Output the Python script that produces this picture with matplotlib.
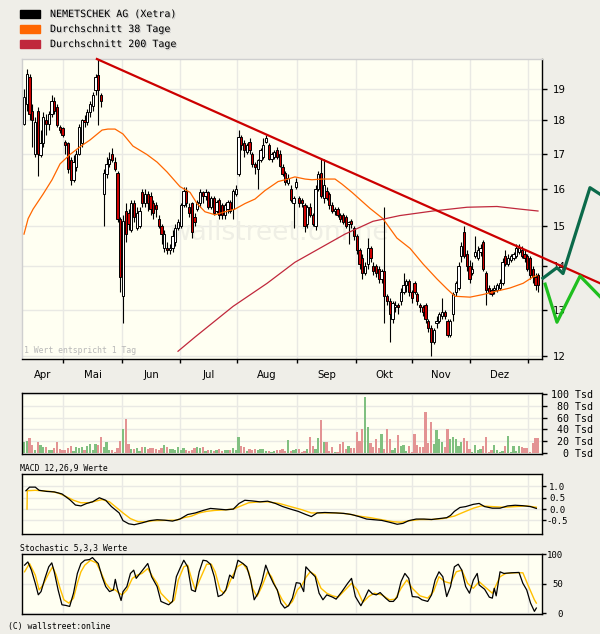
import matplotlib
matplotlib.use("Agg")
import matplotlib.pyplot as plt
import matplotlib.patheffects as pe
from matplotlib.patches import Rectangle
from matplotlib.ticker import NullLocator, NullFormatter
import numpy as np


# Daily candles (trading day index 0..187), EUR
opens = [17.9, 18.5, 19.4, 18.3, 17.0, 18.3, 16.95, 17.3, 18.0, 17.9,
         18.2, 18.6, 18.4, 17.8, 17.75, 17.35, 17.3, 16.8, 16.25, 16.6,
         17.0, 17.3, 18.0, 17.95, 18.25, 18.45, 18.95, 19.45, 18.8, 15.85,
         16.4, 16.7, 17.0, 16.75, 16.45, 15.2, 13.3, 15.4, 15.35, 14.9,
         15.6, 14.95, 15.0, 15.9, 15.6, 15.85, 15.8, 15.6, 15.55, 15.2,
         15.0, 14.45, 14.45, 14.4, 14.45, 14.6, 14.95, 15.0, 15.55, 15.95,
         15.5, 15.6, 15.25, 15.45, 15.6, 15.9, 15.8, 15.9, 15.5, 15.75,
         15.4, 15.7, 15.55, 15.3, 15.45, 15.65, 15.45, 15.85, 16.4, 17.5,
         17.3, 17.05, 17.35, 17.0, 16.7, 16.55, 16.8, 16.9, 17.35, 17.25,
         16.85, 16.9, 17.1, 17.0, 16.6, 16.45, 16.15, 16.0, 15.6, 16.05,
         15.75, 15.7, 15.55, 15.05, 15.5, 15.3, 15.0, 16.0, 16.45, 15.75,
         15.95, 15.85, 15.55, 15.4, 15.45, 15.3, 15.3, 15.25, 15.05, 15.15,
         14.95, 14.75, 14.4, 14.2, 13.85, 14.05, 14.45, 14.0, 14.0, 13.95,
         13.7, 13.9, 13.3, 13.2, 12.8, 13.05, 13.1, 13.2, 13.4, 13.55,
         13.65, 13.4, 13.6, 13.35, 13.1, 13.05, 13.1, 12.75, 12.6, 12.3,
         12.7, 12.75, 12.85, 12.95, 12.75, 12.45, 12.9, 13.4, 13.5, 14.25,
         14.85, 14.3, 14.0, 13.85, 14.25, 14.2, 14.35, 14.6, 13.85, 13.5,
         13.45, 13.45, 13.45, 13.5, 13.6, 14.25, 14.05, 14.15, 14.2, 14.25,
         14.35, 14.4, 14.3, 14.25, 14.2, 13.95, 13.75, 13.8]
closes = [18.75, 19.5, 18.2, 18.0, 17.95, 17.0, 17.3, 18.1, 17.9, 18.2,
          18.6, 18.3, 17.85, 17.7, 17.55, 17.25, 16.55, 16.25, 16.75, 17.0,
          17.8, 18.0, 17.95, 18.25, 18.5, 18.8, 19.4, 18.95, 18.6, 16.45,
          16.7, 16.85, 16.8, 16.55, 15.2, 13.75, 15.15, 14.8, 15.05, 15.6,
          15.25, 15.35, 15.4, 15.6, 15.85, 15.6, 15.45, 15.35, 15.45, 15.0,
          14.8, 14.8, 14.4, 14.45, 14.75, 14.95, 15.1, 15.55, 15.95, 15.6,
          15.35, 14.85, 15.1, 15.65, 15.9, 15.8, 15.9, 15.5, 15.75, 15.35,
          15.65, 15.3, 15.3, 15.55, 15.65, 15.4, 15.95, 16.0, 17.5, 17.25,
          17.1, 17.25, 17.1, 16.7, 16.6, 16.8, 17.1, 17.25, 17.45, 16.85,
          17.0, 17.05, 16.9, 16.65, 16.4, 16.2, 16.3, 15.7, 15.75, 16.2,
          15.6, 15.6, 15.0, 15.5, 15.3, 15.05, 16.0, 16.4, 15.8, 16.1,
          15.75, 15.55, 15.4, 15.45, 15.3, 15.2, 15.1, 15.0, 15.1, 15.05,
          14.75, 14.4, 14.05, 13.85, 14.0, 14.45, 14.2, 13.9, 13.85, 13.7,
          13.9, 13.3, 13.2, 12.9, 13.15, 13.1, 13.05, 13.4, 13.55, 13.65,
          13.4, 13.25, 13.4, 13.2, 13.05, 12.95, 12.8, 12.6, 12.3, 12.55,
          12.75, 12.9, 12.95, 12.85, 12.45, 12.75, 13.35, 13.6, 14.0, 14.5,
          14.25, 14.0, 13.7, 13.95, 14.35, 14.4, 14.45, 13.95, 13.45, 13.4,
          13.35, 13.5, 13.55, 13.6, 14.1, 14.05, 14.2, 14.25, 14.3, 14.45,
          14.45, 14.25, 14.2, 13.95, 13.8, 13.75, 13.55, 13.55]
highs = [19.0, 19.65, 19.5, 18.5, 18.1, 18.4, 17.7, 18.25, 18.2, 18.3,
         18.8, 18.75, 18.5, 17.85, 17.8, 17.4, 17.35, 16.9, 16.95, 17.1,
         17.9, 18.05, 18.15, 18.35, 18.6, 18.9, 19.5, 20.0, 18.85, 16.55,
         16.9, 17.05, 17.15, 16.9, 16.5, 15.25, 15.3, 15.6, 15.45, 15.7,
         15.7, 15.5, 15.5, 16.0, 16.0, 15.95, 15.9, 15.7, 15.65, 15.3,
         15.05, 14.9, 14.6, 14.55, 14.9, 15.05, 15.2, 15.6, 16.05, 16.05,
         15.6, 15.65, 15.35, 15.7, 16.0, 15.95, 16.0, 15.95, 15.8, 15.8,
         15.7, 15.75, 15.6, 15.6, 15.7, 15.7, 16.0, 16.1, 17.7, 17.55,
         17.4, 17.3, 17.45, 17.05, 16.75, 16.85, 17.15, 17.45, 17.55, 17.3,
         17.05, 17.1, 17.2, 17.1, 16.7, 16.5, 16.4, 16.1, 15.8, 16.3,
         15.8, 15.75, 15.6, 15.55, 15.6, 15.35, 16.1, 16.5, 16.85, 16.85,
         16.05, 15.9, 15.65, 15.5, 15.5, 15.35, 15.35, 15.3, 15.15, 15.2,
         15.0, 14.8, 14.45, 14.3, 14.1, 14.7, 14.5, 14.1, 14.05, 14.0,
         13.95, 15.5, 13.35, 13.25, 13.2, 13.2, 13.15, 13.5, 13.85, 13.7,
         13.7, 13.45, 13.65, 13.4, 13.15, 13.1, 13.15, 12.8, 12.65, 12.6,
         12.85, 12.95, 13.25, 13.0, 12.8, 12.8, 13.4, 13.65, 14.1, 14.6,
         15.0, 14.4, 14.15, 14.1, 14.75, 14.5, 14.55, 14.65, 13.9, 13.55,
         13.5, 13.55, 13.6, 13.7, 14.2, 14.4, 14.3, 14.3, 14.35, 14.55,
         14.55, 14.5, 14.4, 14.3, 14.25, 14.0, 13.85, 13.85]
lows = [17.85, 18.3, 18.0, 17.2, 16.9, 16.35, 16.9, 17.2, 17.55, 17.7,
        18.1, 18.2, 17.8, 17.6, 17.5, 17.0, 16.45, 16.1, 16.2, 16.5,
        16.95, 17.2, 17.8, 17.85, 18.1, 18.3, 18.8, 17.85, 18.4, 15.0,
        16.3, 16.6, 16.75, 16.5, 15.1, 13.4, 12.7, 14.6, 14.9, 14.85,
        15.1, 14.9, 14.95, 15.5, 15.5, 15.4, 15.3, 15.2, 15.25, 14.95,
        14.55, 14.35, 14.3, 14.3, 14.35, 14.5, 14.9, 14.95, 15.5, 15.5,
        15.25, 14.7, 15.0, 15.4, 15.5, 15.6, 15.7, 15.45, 15.45, 15.3,
        15.35, 15.2, 15.2, 15.2, 15.35, 15.35, 15.2, 15.8, 16.35, 17.1,
        16.9, 17.0, 17.0, 16.6, 16.4, 16.0, 16.75, 16.85, 17.3, 16.8,
        16.75, 16.85, 16.85, 16.6, 16.35, 16.1, 16.1, 15.65, 14.95, 16.0,
        15.5, 15.5, 14.85, 14.95, 15.25, 15.0, 14.9, 15.95, 15.75, 15.6,
        15.7, 15.45, 15.35, 15.3, 15.25, 15.1, 15.05, 14.95, 14.55, 14.95,
        14.65, 14.3, 13.95, 13.7, 13.8, 13.95, 14.1, 13.8, 13.75, 13.6,
        13.6, 12.7, 13.1, 12.3, 12.7, 12.95, 12.9, 13.1, 13.35, 13.4,
        13.3, 13.15, 13.35, 13.1, 12.95, 12.85, 12.7, 12.5, 12.0, 12.25,
        12.6, 12.7, 12.8, 12.8, 12.4, 12.4, 12.75, 13.3, 13.45, 14.1,
        14.2, 13.9, 13.6, 13.8, 14.2, 14.15, 14.25, 13.9, 13.1, 13.35,
        13.3, 13.35, 13.4, 13.45, 13.55, 14.0, 14.0, 14.1, 14.15, 14.2,
        14.3, 14.2, 14.1, 13.9, 13.7, 13.6, 13.45, 13.4]

# Volume in thousand shares
volume = [18, 20, 25, 14, 5, 18, 14, 10, 10, 5,
          5, 9, 18, 7, 5, 5, 8, 12, 3, 10,
          9, 10, 5, 12, 16, 5, 15, 14, 27, 10,
          18, 5, 5, 2, 9, 20, 40, 58, 16, 7,
          7, 8, 4, 10, 10, 7, 9, 8, 7, 5,
          9, 14, 10, 7, 7, 5, 10, 5, 9, 5,
          4, 5, 8, 10, 9, 10, 4, 5, 5, 4,
          5, 7, 4, 5, 5, 5, 8, 5, 28, 12,
          10, 4, 7, 5, 7, 5, 7, 7, 4, 4,
          2, 4, 5, 5, 7, 4, 22, 4, 5, 7,
          7, 2, 4, 7, 27, 12, 7, 26, 56, 19,
          19, 4, 11, 2, 2, 16, 19, 7, 12, 9,
          9, 36, 21, 41, 94, 44, 17, 11, 23, 9,
          32, 7, 41, 23, 6, 9, 31, 12, 14, 4,
          12, 2, 32, 14, 11, 11, 69, 17, 52, 16,
          39, 24, 19, 11, 41, 23, 27, 23, 12, 19,
          25, 21, 7, 2, 14, 6, 7, 12, 27, 2,
          6, 14, 6, 2, 4, 12, 29, 2, 12, 4,
          12, 11, 9, 9, 2, 17, 25, 25]

# 38 day and 200 day averages
ma38_day = [0, 1.5, 3.3, 6.9, 10.2, 13.1, 16.7, 20.4, 24.0, 28.4,
            30.5, 33.1, 36.0, 39.6, 44.7, 48.4, 52.0, 56.7, 60.4, 62.9,
            65.8, 69.5, 73.1, 76.7, 80.4, 84.0, 87.6, 92.4, 96.0, 98.5,
            102.2, 104.7, 108.4, 113.1, 115.6, 119.3, 122.9, 125.8, 130.5, 135.6,
            140.4, 145.1, 150.2, 153.8, 156.7, 162.2, 166.9, 172.0, 176.7, 181.5,
            185.1, 186.5]
ma38_val = [14.8, 15.2, 15.45, 15.85, 16.25, 16.7, 16.97, 17.2, 17.4, 17.7,
            17.73, 17.73, 17.58, 17.22, 16.97, 16.75, 16.47, 16.06, 15.9, 15.6,
            15.38, 15.3, 15.38, 15.45, 15.6, 15.72, 15.95, 16.2, 16.27, 16.33,
            16.27, 16.25, 16.27, 16.27, 16.13, 15.9, 15.66, 15.47, 15.2, 14.7,
            14.44, 14.06, 13.7, 13.47, 13.3, 13.28, 13.34, 13.42, 13.49, 13.6,
            13.75, 13.78]
ma200_day = [56.0, 62.2, 76.0, 88.4, 98.5, 116.7, 126.9, 136.7, 148.7, 161.1, 172.0, 180.4, 186.9]
ma200_val = [12.1, 12.4, 13.07, 13.6, 14.1, 14.8, 15.13, 15.28, 15.4, 15.5, 15.52, 15.45, 15.4]

# trend line and the two projection lines past the last day
trend_day = [26.5, 209.5]
trend_val = [20.0, 13.6]
proj_dark_day = [188.7, 193.8, 196.0, 205.8, 209.5]
proj_dark_val = [13.72, 13.97, 13.83, 16.03, 15.85]
proj_light_day = [189.5, 193.8, 202.2, 209.5]
proj_light_val = [13.58, 12.72, 13.77, 13.29]

# MACD 12,26,9
macd_day = [0.7, 2.0, 4.1, 5.5, 8.3, 11.0, 13.8, 16.6, 18.7, 20.7,
            22.8, 24.9, 27.4, 29.7, 31.8, 34.6, 36.0, 38.1, 40.1, 42.9,
            45.7, 48.4, 51.2, 54.0, 56.7, 59.5, 62.3, 65.1, 67.8, 70.6,
            73.4, 76.1, 78.2, 80.3, 83.1, 85.8, 88.6, 91.4, 94.1, 96.9,
            99.7, 102.5, 104.5, 106.6, 109.4, 113.5, 116.3, 119.1, 121.8, 124.6,
            127.4, 130.1, 132.9, 135.7, 137.8, 139.9, 142.6, 145.4, 148.2, 150.9,
            153.7, 155.1, 156.5, 158.5, 160.6, 163.4, 165.5, 167.5, 170.3, 173.1,
            175.8, 178.6, 181.4, 184.2, 186.3]
macd_val = [0.81, 0.97, 0.97, 0.83, 0.78, 0.76, 0.67, 0.42, 0.18, 0.14,
            0.25, 0.32, 0.50, 0.39, 0.11, -0.17, -0.51, -0.65, -0.69, -0.61,
            -0.51, -0.47, -0.49, -0.53, -0.44, -0.24, -0.17, -0.06, 0.03, 0.0,
            -0.03, 0.0, 0.25, 0.39, 0.36, 0.32, 0.35, 0.25, 0.11, 0.0,
            -0.1, -0.24, -0.33, -0.17, -0.15, -0.17, -0.19, -0.24, -0.33, -0.44,
            -0.47, -0.50, -0.58, -0.67, -0.63, -0.51, -0.44, -0.44, -0.46, -0.42,
            -0.38, -0.28, -0.10, 0.07, 0.11, 0.21, 0.25, 0.11, 0.04, 0.04,
            0.14, 0.17, 0.15, 0.11, 0.03]
signal_day = [1.1, 1.2, 4.1, 9.7, 12.4, 15.2, 18.0, 20.7, 23.5, 26.3,
              28.4, 31.1, 33.2, 36.0, 38.7, 41.5, 44.3, 47.1, 51.2, 55.4,
              58.1, 60.9, 63.7, 66.4, 69.2, 73.4, 76.1, 78.9, 81.7, 85.8,
              88.6, 92.8, 96.9, 101.1, 104.5, 109.4, 113.5, 117.7, 121.8, 126.0,
              130.1, 134.3, 137.1, 140.5, 144.0, 148.2, 152.3, 156.5, 159.2, 163.4,
              166.2, 170.3, 174.5, 178.6, 182.8, 186.3]
signal_val = [0.0, 0.81, 0.83, 0.78, 0.71, 0.56, 0.39, 0.28, 0.28, 0.36,
              0.42, 0.32, 0.11, -0.17, -0.42, -0.56, -0.56, -0.51, -0.5, -0.49,
              -0.38, -0.31, -0.17, -0.1, -0.06, -0.03, 0.0, 0.14, 0.28, 0.32,
              0.32, 0.25, 0.11, -0.03, -0.17, -0.17, -0.17, -0.21, -0.31, -0.38,
              -0.47, -0.56, -0.58, -0.51, -0.46, -0.46, -0.42, -0.31, -0.17, 0.04,
              0.14, 0.11, 0.08, 0.11, 0.14, 0.08]

# Stochastic 5,3,3 (%K black, %D yellow)
stk_day = [0.2, 1.4, 2.7, 4.1, 5.2, 6.2, 7.6, 9.0, 10.1, 11.0,
           12.4, 13.8, 15.2, 16.6, 18.0, 19.4, 20.7, 22.1, 23.8, 24.9,
           26.0, 27.0, 28.4, 29.7, 31.1, 32.5, 33.2, 33.9, 35.3, 36.0,
           37.4, 38.7, 39.9, 40.8, 42.2, 43.6, 45.0, 46.4, 48.4, 49.8,
           51.2, 52.6, 54.0, 55.4, 56.7, 58.1, 59.5, 60.9, 62.3, 63.7,
           65.1, 66.4, 67.8, 69.2, 70.6, 72.0, 73.4, 74.8, 76.1, 77.8,
           79.6, 81.0, 82.4, 83.7, 85.1, 86.5, 87.9, 89.3, 90.7, 92.1,
           93.4, 94.8, 96.2, 97.6, 99.0, 100.4, 101.7, 102.5, 104.1, 105.9,
           107.3, 108.7, 110.1, 112.2, 113.5, 115.6, 117.7, 119.1, 120.5, 122.5,
           123.9, 125.3, 126.7, 128.1, 129.5, 131.5, 132.9, 134.3, 135.7, 137.1,
           138.5, 139.9, 141.2, 143.3, 144.7, 146.8, 148.2, 149.5, 150.9, 152.3,
           153.7, 155.1, 156.5, 157.9, 159.2, 160.6, 162.0, 163.4, 164.8, 165.5,
           167.5, 169.2, 170.3, 171.0, 171.7, 173.1, 174.5, 177.2, 180.0, 181.4,
           182.8, 184.2, 185.6, 186.3]
stk_val = [81.5, 87, 73, 50.6, 31, 36.5, 59, 78.7, 85.4, 70.2,
           39.3, 14, 12.9, 11.2, 33.7, 67.4, 84.3, 89.9, 91, 94.4,
           88.8, 84.3, 61.8, 45, 36.5, 39.3, 57.3, 42.1, 21.3, 36.5,
           45, 67.4, 73, 59, 67.4, 75.8, 84.3, 61.8, 45, 19.7,
           16.9, 14, 19.7, 61.8, 75.8, 89.9, 78.7, 39.3, 36.5, 70.2,
           89.9, 88.8, 83.1, 61.8, 28, 30.9, 39.3, 64.6, 59, 89.9,
           84.3, 78.7, 56.2, 22.5, 33.7, 53.4, 81.5, 64.6, 50.6, 39.3,
           16.9, 8.4, 12.4, 25.3, 51.7, 50.6, 36.5, 78.7, 70.2, 61.8,
           33.7, 22.5, 30.9, 27, 23.6, 36.5, 50.6, 59, 28, 12.4,
           25.3, 39.3, 32.6, 30.9, 34.8, 25.3, 19.7, 19.7, 27, 53.4,
           67.4, 59, 28, 27, 22.5, 19.7, 30.9, 56.2, 70.2, 61.8,
           28, 45, 78.7, 83.1, 73, 45, 33.7, 56.2, 67.4, 47.8,
           40.4, 27, 25.3, 42.1, 29.2, 70.2, 67.4, 68.5, 69.1, 50.6,
           39.3, 16.9, 2.8, 8.4]
std_day = [0.2, 2.0, 4.1, 5.5, 6.9, 9.0, 10.4, 11.7, 13.1, 14.5,
           16.3, 18.0, 19.4, 20.7, 22.1, 24.2, 26.3, 27.9, 29.7, 31.5,
           33.2, 34.6, 35.7, 37.4, 39.4, 41.2, 42.9, 45.0, 46.8, 48.4,
           49.8, 51.5, 53.3, 54.7, 56.1, 58.1, 59.5, 60.9, 62.3, 64.4,
           66.4, 68.1, 69.5, 71.3, 72.7, 74.1, 75.4, 77.5, 79.6, 81.7,
           83.1, 84.7, 86.5, 88.6, 90.0, 91.7, 93.9, 95.8, 97.6, 99.4,
           101.1, 102.5, 104.1, 105.9, 108.0, 110.1, 112.2, 114.2, 117.0, 119.1,
           121.2, 123.2, 125.3, 127.4, 130.1, 132.9, 135.0, 137.1, 139.2, 141.2,
           144.0, 146.8, 148.9, 150.9, 153.0, 155.1, 157.2, 159.2, 161.3, 163.4,
           165.5, 167.5, 170.3, 173.1, 175.2, 178.6, 181.4, 183.5, 185.6, 186.3]
std_val = [70.2, 84.3, 64.6, 39.3, 47.8, 67.4, 78.7, 64.6, 42.1, 22.5,
           16.9, 25.3, 50.6, 70.2, 81.5, 89.9, 85.4, 70.2, 50.6, 40.4,
           39.3, 33.7, 30.9, 39.3, 59, 64.6, 67.4, 75.8, 61.8, 50.6,
           33.7, 25.3, 16.9, 22.5, 56.2, 78.7, 81.5, 59, 39.3, 61.8,
           83.1, 83.1, 70.2, 39.3, 33.7, 45, 59, 78.7, 84.3, 70.2,
           42.1, 28, 45, 70.2, 61.8, 42.1, 22.5, 11.2, 19.7, 39.3,
           47.8, 60.7, 70.2, 64.6, 42.1, 33.7, 29.2, 27, 40.4, 50.6,
           39.3, 18, 28, 33.7, 30.9, 22.5, 23.6, 42.1, 56.2, 42.1,
           29.2, 25.3, 36.5, 61.8, 53.4, 50.6, 70.2, 73, 50.6, 42.1,
           53.4, 45, 33.7, 61.8, 67.4, 68.5, 68.5, 45, 22.5, 16.9]

# month starts as trading day index (Apr 1 lies left of the window)
month_starts = [-7.3, 14.2, 35.6, 56.7, 77.5, 99.3, 120.7, 141.1, 162.2, 183.3]
month_names = ['Apr', 'Mai', 'Jun', 'Jul', 'Aug', 'Sep', 'Okt', 'Nov', 'Dez']
price_ticks = [12, 13, 14, 15, 16, 17, 18, 19]
vol_ticks = [0, 20, 40, 60, 80, 100]
macd_ticks = [-0.5, 0.0, 0.5, 1.0]
stoch_ticks = [0, 50, 100]

BG = '#efeee8'
PANEL = '#fffff2'
GRID = '#e9e9e4'
RED = '#cc0000'
MONO = 'DejaVu Sans Mono'
W, H = 600, 634
x_lo, x_hi = -0.73, 188.36

fig = plt.figure(figsize=(6, 6.34), dpi=100)
fig.patch.set_facecolor(BG)


def px_axes(left, top, right, bottom):
    return fig.add_axes([left / W, 1 - bottom / H, (right - left) / W, (bottom - top) / H])


def base(a):
    a.set_facecolor(PANEL)
    a.set_xticks(month_starts)
    a.tick_params(axis='x', which='both', length=0, labelbottom=False)
    a.yaxis.tick_right()
    a.grid(True, which='major', color=GRID, lw=1)
    a.set_axisbelow(True)
    for s in a.spines.values():
        s.set_color('black')
        s.set_linewidth(1)


ax = px_axes(22, 59, 542, 359)
axv = px_axes(22, 393, 542, 454)
axm = px_axes(22, 474, 542, 534)
axs = px_axes(22, 554, 542, 614)

# ---- price panel
base(ax)
ax.set_yscale('log')
ax.set_ylim(11.94, 20.0)
ax.set_yticks(price_ticks)
ax.set_yticklabels([str(t) for t in price_ticks])
ax.yaxis.set_minor_locator(NullLocator())
ax.yaxis.set_minor_formatter(NullFormatter())
ax.tick_params(axis='y', length=3.6, width=1, pad=4.3, labelsize=7.4)
ax.spines['left'].set_color('#cfcfcf')
ax.spines['top'].set_color('#cfcfcf')

lo = [max(s, x_lo) for s in month_starts]
mids = [(lo[k] + lo[k + 1]) / 2 for k in range(len(month_names))]
ax.set_xticks(mids, minor=True)
ax.set_xticklabels(month_names, minor=True)
ax.tick_params(axis='x', which='major', length=3, width=1, direction='out')
ax.tick_params(axis='x', which='minor', length=0, pad=8, labelsize=7.3, labelbottom=True)

ax.text(0.285, 0.397, 'wallstreet:online', transform=ax.transAxes, fontsize=19,
        color='#efefe5', zorder=0.6)
ax.text(0.003, 0.012, '1 Wert entspricht 1 Tag', transform=ax.transAxes,
        fontsize=5.9, family=MONO, color='#b8b8b8', va='bottom')

days = np.arange(len(closes))
o = np.array(opens)
c = np.array(closes)
up = c >= o
ax.vlines(days, lows, highs, color='black', lw=0.8, zorder=2)
ax.bar(days, np.abs(c - o), bottom=np.minimum(o, c), width=0.8,
       color=np.where(up, 'white', RED), edgecolor='black', linewidth=0.7, zorder=2.5)

ax.plot(ma38_day, ma38_val, color='#ff6600', lw=0.9, zorder=3)
ax.plot(ma200_day, ma200_val, color='#c0283c', lw=0.9, zorder=3)
ax.plot(trend_day, trend_val, color=RED, lw=1.6, zorder=4, clip_on=False)
ax.plot(proj_dark_day, proj_dark_val, color='#0b6a4a', lw=2.3, zorder=5, clip_on=False)
ax.plot(proj_light_day, proj_light_val, color='#1fbf1f', lw=2.3, zorder=5, clip_on=False)

# ---- volume panel
base(axv)
axv.set_ylim(-1.6, 101.6)
axv.set_yticks(vol_ticks)
axv.set_yticklabels(['%d Tsd' % t for t in vol_ticks], family=MONO)
axv.tick_params(axis='y', length=3.6, width=1, pad=33, labelsize=7.2)
for lab in axv.get_yticklabels():
    lab.set_ha('right')
axv.bar(days, volume, width=0.75, color=np.where(up, '#80c080', '#e39393'), zorder=2)

# ---- MACD panel
base(axm)
axm.set_ylim(-1.1, 1.55)
axm.set_yticks(macd_ticks)
axm.set_yticklabels(['%.1f' % t for t in macd_ticks], family=MONO)
axm.tick_params(axis='y', length=3, width=1, pad=8, labelsize=6.5)
for lab in axm.get_yticklabels():
    lab.set_ha('center')
axm.plot(signal_day, signal_val, color='#ffc000', lw=1.0, zorder=3)
axm.plot(macd_day, macd_val, color='black', lw=0.9, zorder=3)

# ---- Stochastic panel
base(axs)
axs.set_ylim(-1.7, 100.5)
axs.set_yticks(stoch_ticks)
axs.set_yticklabels([str(t) for t in stoch_ticks], family=MONO)
axs.tick_params(axis='y', length=3, width=1, pad=12, labelsize=6.5)
for lab in axs.get_yticklabels():
    lab.set_ha('right')
axs.plot(std_day, std_val, color='#ffc000', lw=1.0, zorder=3)
axs.plot(stk_day, stk_val, color='black', lw=0.9, zorder=3)

# ticks outside the window would widen the view, so fix the range last
for a in (ax, axv, axm, axs):
    a.set_xlim(x_lo, x_hi)

# ---- titles, legend, footer
fig.text(20 / W, 1 - 468 / H, 'MACD 12,26,9 Werte', family=MONO, fontsize=5.9, va='center')
fig.text(20 / W, 1 - 548 / H, 'Stochastic 5,3,3 Werte', family=MONO, fontsize=5.9, va='center')
fig.text(8 / W, 1 - 627 / H, '(C) wallstreet:online', family=MONO, fontsize=5.9, va='center')

legend_items = [('NEMETSCHEK AG (Xetra)', 'black', 14),
                ('Durchschnitt 38 Tage', '#ff6600', 29),
                ('Durchschnitt 200 Tage', '#c0283c', 44)]
shadow = [pe.withSimplePatchShadow(offset=(0.8, -0.8), shadow_rgbFace='#c4c4c4', alpha=1)]
for label, col, yc in legend_items:
    fig.add_artist(Rectangle((20 / W, 1 - (yc + 3.5) / H), 20 / W, 7 / H,
                             transform=fig.transFigure, color=col))
    fig.text(50 / W, 1 - yc / H, label, family=MONO, fontsize=7.2, va='center',
             path_effects=shadow)

fig.savefig('out.png', dpi=100, facecolor=BG)
